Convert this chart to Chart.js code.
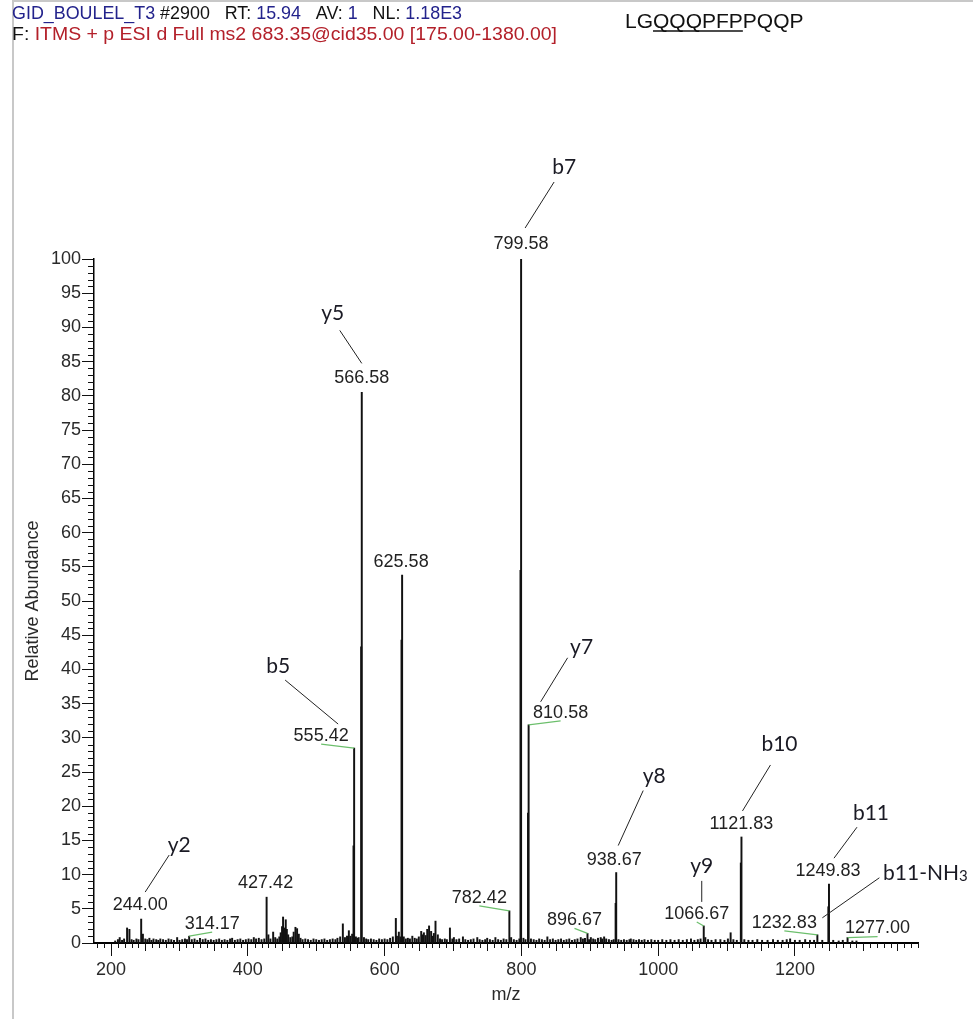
<!DOCTYPE html>
<html>
<head>
<meta charset="utf-8">
<title>MS2 spectrum LGQQQPFPPQQP</title>
<script src="https://cdn.jsdelivr.net/npm/chart.js@4.4.1/dist/chart.umd.min.js"></script>
<style>
  html, body { margin: 0; padding: 0; background: #fff; }
  canvas { display: block; }
</style>
</head>
<body>
<canvas id="spectrum" width="973" height="1019"></canvas>
<script>
// ---- Spectrum data: centroid m/z and relative abundance (%) ----
const peakMz = [
  206, 210, 212.6, 216, 219, 223.4, 226.8, 230, 233, 237, 240, 244.00, 246.5, 250, 253, 256, 259, 262, 266, 269,
  272, 276, 280, 284, 288, 292, 296.6, 300, 304, 308, 311, 314.17, 318, 322, 326, 330, 334, 338, 342, 346,
  350, 354, 358, 362, 366, 370, 374, 377, 381, 385, 389, 393, 397, 401, 405, 408.7, 412, 416, 420, 424,
  427.42, 430, 433, 437, 440, 443, 446, 448, 450, 451.5, 453, 455.4, 457, 459, 462, 465, 467, 469.6, 472, 474.5,
  477, 480, 484, 488, 492, 496, 500, 504, 508, 512, 516, 520, 524, 528, 531, 535, 538.9, 542, 545, 547.7,
  550, 552.5, 554.5, 555.42, 558, 560, 562, 565.7, 566.58, 569.8, 573, 576, 580, 584, 588, 592, 596, 600, 604, 608,
  612, 616.4, 618, 620.8, 623, 624.7, 625.58, 628, 631, 634, 637, 640.5, 644, 647, 650, 653.5, 655.5, 657.4, 660, 662.3,
  665, 668, 670, 672, 674.4, 677.8, 681, 684, 688, 691, 695.5, 699, 701.3, 705, 709, 714.5, 718, 722, 726, 730,
  735.5, 739, 743, 747, 750, 754, 758, 762, 766, 770, 774, 778, 782.42, 785, 789, 793, 797, 798.7, 799.58, 803,
  806, 809.7, 810.58, 814, 818, 822, 826, 830, 834, 838, 842, 846, 850, 854, 858, 862, 866, 870, 874, 878,
  882, 886.8, 890, 893, 896.67, 899, 901.6, 905, 908, 912, 916, 918, 921, 924, 928, 932, 935, 937.8, 938.67, 942,
  946, 950, 954, 958, 960, 964, 968, 972, 976, 980, 985, 990, 995, 1000, 1006, 1012, 1018, 1024, 1030, 1036,
  1042, 1048, 1053, 1058, 1062, 1066.67, 1069, 1073, 1078, 1084, 1091, 1097, 1102, 1106, 1110, 1115, 1120.9, 1121.83, 1126, 1132,
  1138, 1145, 1152, 1160, 1168, 1175, 1182, 1188, 1193, 1200, 1207, 1215, 1222, 1228, 1232.83, 1240, 1248.9, 1249.83, 1256, 1264,
  1270, 1277.00, 1284, 1290
];
const peakIntensity = [
  0.3, 0.5, 0.8, 0.4, 0.6, 2.2, 2.0, 0.5, 0.4, 0.6, 0.5, 3.5, 1.3, 0.6, 0.5, 0.7, 0.4, 0.6, 0.5, 0.4,
  0.6, 0.5, 0.4, 0.6, 0.5, 0.4, 0.8, 0.4, 0.5, 0.6, 0.5, 1.0, 0.5, 0.6, 0.4, 0.7, 0.5, 0.6, 0.4, 0.5,
  0.4, 0.5, 0.6, 0.4, 0.5, 0.4, 0.6, 0.7, 0.4, 0.5, 0.6, 0.4, 0.5, 0.6, 0.5, 0.8, 0.6, 0.7, 0.5, 0.6,
  6.7, 1.2, 0.6, 1.6, 0.8, 0.6, 0.9, 1.5, 2.4, 3.8, 2.2, 3.4, 2.0, 1.2, 0.8, 0.9, 1.6, 2.3, 2.1, 1.3,
  0.7, 0.5, 0.6, 0.5, 0.4, 0.6, 0.5, 0.4, 0.5, 0.6, 0.4, 0.5, 0.6, 0.5, 0.7, 0.9, 2.8, 0.8, 1.0, 1.8,
  1.0, 1.3, 14.2, 28.5, 0.9, 0.7, 0.8, 43.3, 80.5, 0.8, 0.6, 0.5, 0.6, 0.5, 0.4, 0.6, 0.5, 0.6, 0.5, 0.7,
  0.9, 3.6, 1.0, 1.6, 0.9, 44.3, 53.8, 0.9, 0.6, 0.7, 0.6, 1.0, 0.7, 0.6, 0.9, 1.7, 1.2, 1.5, 1.1, 2.0,
  2.5, 1.7, 1.0, 1.4, 3.2, 1.2, 0.6, 0.5, 0.6, 0.5, 2.2, 0.6, 0.8, 0.5, 0.6, 0.9, 0.5, 0.4, 0.5, 0.6,
  0.8, 0.5, 0.4, 0.5, 0.7, 0.5, 0.4, 0.8, 0.5, 0.4, 0.6, 0.5, 4.7, 0.8, 0.5, 0.4, 0.6, 54.5, 100, 0.7,
  0.5, 19.0, 31.9, 0.6, 0.5, 0.4, 0.6, 0.5, 0.4, 0.9, 0.5, 0.6, 0.4, 0.5, 0.6, 0.4, 0.5, 0.6, 0.4, 0.5,
  0.6, 0.8, 0.6, 0.7, 1.4, 0.5, 0.8, 0.6, 0.5, 0.7, 0.8, 0.6, 0.9, 0.6, 0.5, 0.4, 0.5, 5.8, 10.3, 0.5,
  0.4, 0.5, 0.4, 0.5, 0.6, 0.5, 0.4, 0.5, 0.4, 0.5, 0.4, 0.5, 0.4, 0.4, 0.5, 0.4, 0.5, 0.4, 0.5, 0.4,
  0.5, 0.6, 0.4, 0.5, 0.6, 2.5, 0.8, 0.5, 0.4, 0.5, 0.5, 0.4, 0.6, 1.5, 0.5, 0.4, 11.7, 15.5, 0.5, 0.4,
  0.4, 0.5, 0.4, 0.4, 0.5, 0.4, 0.4, 0.5, 0.6, 0.4, 0.4, 0.5, 0.4, 0.4, 1.2, 0.4, 5.3, 8.6, 0.4, 0.3,
  0.4, 0.8, 0.3, 0.3
];

// Peaks whose m/z is printed on the spectrum
const labelledMz = [244.00, 314.17, 427.42, 555.42, 566.58, 625.58, 782.42, 799.58, 810.58,
                    896.67, 938.67, 1066.67, 1121.83, 1232.83, 1249.83, 1277.00];
// Fragment ion assignments
const ionNames = ['y2', 'b5', 'y5', 'b7', 'y7', 'y8', 'y9', 'b10', 'b11', 'b11-NH3'];
const ionMz    = [244.00, 555.42, 566.58, 799.58, 810.58, 938.67, 1066.67, 1121.83, 1249.83, 1232.83];

// Axis ticks
const xTickValues = [200, 400, 600, 800, 1000, 1200];
const yTickValues = [0, 5, 10, 15, 20, 25, 30, 35, 40, 45, 50, 55, 60, 65, 70, 75, 80, 85, 90, 95, 100];

// Scan header and peptide sequence
const headerLine1 = [['GID_BOULEL_T3', 'blue'], [' #2900', 'black'], ['   RT: ', 'black'], ['15.94', 'blue'],
                     ['   AV: ', 'black'], ['1', 'blue'], ['   NL: ', 'black'], ['1.18E3', 'blue']];
const headerLine2 = [['F: ', 'black'], ['ITMS + p ESI d Full ms2 683.35@cid35.00 [175.00-1380.00]', 'red']];
const peptide = 'LGQQQPFPPQQP';
const peptideUnderline = [2, 8];   // residues QQQPFP

// ---- Placement of annotations, in pixels relative to the peak apex ----
const labelPlacement = {
  '244.00':  { dx: -1,  dy: -14 },
  '314.17':  { dx: 23,  dy: -12, mark: true },
  '427.42':  { dx: -1,  dy: -14 },
  '555.42':  { dx: -33, dy: -12, mark: true },
  '566.58':  { dx: 0,   dy: -14 },
  '625.58':  { dx: -1,  dy: -13 },
  '782.42':  { dx: -30, dy: -13, mark: true },
  '799.58':  { dx: 0,   dy: -15 },
  '810.58':  { dx: 32,  dy: -12, mark: true },
  '896.67':  { dx: -13, dy: -13, mark: true },
  '938.67':  { dx: -2,  dy: -13 },
  '1066.67': { dx: -7,  dy: -12, mark: true },
  '1121.83': { dx: 0,   dy: -13 },
  '1232.83': { dx: -33, dy: -12, mark: true },
  '1249.83': { dx: -1,  dy: -13 },
  '1277.00': { dx: 30,  dy: -9,  mark: true }
};
const ionPlacement = {
  'y2':      { tx: 38,  ty: -74, l: [28, -64, 4, -27] },
  'b5':      { tx: -76, ty: -82, l: [-69, -68, -16, -24] },
  'y5':      { tx: -29, ty: -79, l: [-22, -62, 0, -29] },
  'b7':      { tx: 43,  ty: -92, l: [33, -77, 4, -31] },
  'y7':      { tx: 53,  ty: -78, l: [39, -67, 12, -23] },
  'y8':      { tx: 38,  ty: -96, l: [27, -82, 2, -27] },
  'y9':      { tx: -2,  ty: -60, l: [-2, -45, -2, -24] },
  'b10':     { tx: 38,  ty: -93, l: [29, -72, 1, -26] },
  'b11':     { tx: 42,  ty: -71, l: [28, -57, 5, -26] },
  'b11-NH3': { tx: 108, ty: -62, l: [62, -57, 5, -17] }
};

const SANS = '"Liberation Sans", Arial, Helvetica, sans-serif';
const ION_FONT = 'Lato, "Open Sans", sans-serif';
const COLORS = { blue: '#23238c', red: '#b3202a', black: '#111111' };

function apexOf(mz) {
  const i = peakMz.indexOf(mz);
  return peakIntensity[i];
}

function drawSegments(ctx, segs, x0, baseline, width, font) {
  ctx.font = font;
  const natural = segs.reduce((s, [t]) => s + ctx.measureText(t).width, 0);
  ctx.save();
  ctx.translate(x0, baseline);
  ctx.scale(width / natural, 1);
  let x = 0;
  ctx.textBaseline = 'alphabetic';
  ctx.textAlign = 'left';
  for (const [t, c] of segs) {
    ctx.fillStyle = COLORS[c];
    ctx.fillText(t, x, 0);
    x += ctx.measureText(t).width;
  }
  ctx.restore();
}

const annotations = {
  id: 'annotations',
  afterDraw(chart) {
    const { ctx, scales: { x, y } } = chart;
    ctx.save();

    // panel frame
    ctx.strokeStyle = '#c8c8c8';
    ctx.lineWidth = 2;
    ctx.beginPath();
    ctx.moveTo(13, 1019);
    ctx.lineTo(13, 1);
    ctx.lineTo(973, 1);
    ctx.stroke();

    // minor and intermediate ticks
    ctx.strokeStyle = '#111';
    ctx.lineWidth = 1;
    const axisY = y.getPixelForValue(0);
    const axisX = x.getPixelForValue(175);
    for (let v = 180; v <= 1380; v += 10) {
      if (v % 200 === 0) continue;
      const px = Math.round(x.getPixelForValue(v)) + 0.5;
      const len = v % 50 === 0 ? 8 : 5;
      ctx.beginPath();
      ctx.moveTo(px, axisY);
      ctx.lineTo(px, axisY + len);
      ctx.stroke();
    }
    for (let v = 1; v < 100; v++) {
      if (v % 5 === 0) continue;
      const py = Math.round(y.getPixelForValue(v)) + 0.5;
      ctx.beginPath();
      ctx.moveTo(axisX - 6, py);
      ctx.lineTo(axisX, py);
      ctx.stroke();
    }

    // m/z labels on peaks
    ctx.font = '18px ' + SANS;
    ctx.textAlign = 'center';
    ctx.textBaseline = 'middle';
    for (const mz of labelledMz) {
      const key = mz.toFixed(2);
      const p = labelPlacement[key];
      const px = x.getPixelForValue(mz);
      const py = y.getPixelForValue(apexOf(mz));
      const lx = px + p.dx, ly = py + p.dy;
      ctx.fillStyle = '#222';
      ctx.fillText(key, lx, ly);
      if (p.mark) {
        ctx.strokeStyle = '#6cbf6c';
        ctx.lineWidth = 1.2;
        ctx.beginPath();
        ctx.moveTo(lx, ly + 8);
        ctx.lineTo(px, py);
        ctx.stroke();
      }
    }

    // fragment ion assignments with leader lines
    for (let i = 0; i < ionNames.length; i++) {
      const name = ionNames[i];
      const p = ionPlacement[name];
      const px = x.getPixelForValue(ionMz[i]);
      const py = y.getPixelForValue(apexOf(ionMz[i]));
      ctx.strokeStyle = '#222';
      ctx.lineWidth = 1;
      ctx.beginPath();
      ctx.moveTo(px + p.l[0], py + p.l[1]);
      ctx.lineTo(px + p.l[2], py + p.l[3]);
      ctx.stroke();

      ctx.fillStyle = '#1a1a24';
      ctx.textBaseline = 'middle';
      const cx = px + p.tx, cy = py + p.ty;
      const sub = name.match(/^(.*NH)(3)$/);
      if (sub) {
        ctx.font = '21px ' + ION_FONT;
        const w1 = ctx.measureText(sub[1]).width;
        ctx.font = '15px ' + ION_FONT;
        const w2 = ctx.measureText(sub[2]).width;
        const left = cx - (w1 + w2) / 2;
        ctx.textAlign = 'left';
        ctx.font = '21px ' + ION_FONT;
        ctx.fillText(sub[1], left, cy);
        ctx.font = '15px ' + ION_FONT;
        ctx.fillText(sub[2], left + w1, cy + 3);
      } else {
        ctx.font = '21px ' + ION_FONT;
        ctx.textAlign = 'center';
        ctx.fillText(name, cx, cy);
      }
    }

    // scan header
    drawSegments(ctx, headerLine1, 12, 19, 450, '18px ' + SANS);
    drawSegments(ctx, headerLine2, 12, 40, 545, '18px ' + SANS);

    // peptide sequence, modified stretch underlined
    ctx.font = '21px ' + SANS;
    ctx.fillStyle = '#111';
    ctx.textAlign = 'left';
    ctx.textBaseline = 'alphabetic';
    const seqX = 625, seqY = 28;
    ctx.fillText(peptide, seqX, seqY);
    const u0 = seqX + ctx.measureText(peptide.slice(0, peptideUnderline[0])).width;
    const u1 = seqX + ctx.measureText(peptide.slice(0, peptideUnderline[1])).width;
    ctx.strokeStyle = '#111';
    ctx.lineWidth = 1.3;
    ctx.beginPath();
    ctx.moveTo(u0, seqY + 3);
    ctx.lineTo(u1, seqY + 3);
    ctx.stroke();

    ctx.restore();
  }
};

new Chart(document.getElementById('spectrum'), {
  type: 'bar',
  data: {
    datasets: [{
      data: peakMz.map((mz, i) => ({ x: mz, y: peakIntensity[i] })),
      backgroundColor: '#111',
      borderWidth: 0,
      barThickness: 1.3,
      grouped: false
    }]
  },
  options: {
    responsive: false,
    animation: false,
    devicePixelRatio: 1,
    layout: { padding: { top: 259, right: 55, left: 20, bottom: 0 } },
    plugins: { legend: { display: false }, tooltip: { enabled: false } },
    scales: {
      x: {
        type: 'linear',
        min: 175,
        max: 1380,
        offset: false,
        afterBuildTicks: s => { s.ticks = xTickValues.map(v => ({ value: v })); },
        afterFit: s => { s.height = 76; },
        ticks: { font: { family: SANS, size: 18 }, color: '#2a2a2a', padding: 3, maxRotation: 0, autoSkip: false,
                 callback: v => String(v) },
        grid: { offset: false, drawOnChartArea: false, drawTicks: true, tickLength: 13, tickColor: '#111', tickWidth: 1 },
        border: { display: true, color: '#000', width: 2 },
        title: { display: true, text: 'm/z', font: { family: SANS, size: 18 }, color: '#2a2a2a', padding: { bottom: 13 } }
      },
      y: {
        type: 'linear',
        min: 0,
        max: 100,
        afterBuildTicks: s => { s.ticks = yTickValues.map(v => ({ value: v })); },
        afterFit: s => { s.width = 74; },
        ticks: { font: { family: SANS, size: 18 }, color: '#2a2a2a', padding: 1, callback: v => String(v) },
        grid: { drawOnChartArea: false, drawTicks: true, tickLength: 12, tickColor: '#111', tickWidth: 1 },
        border: { display: true, color: '#000', width: 1.5 },
        title: { display: true, text: 'Relative Abundance', font: { family: SANS, size: 18 }, color: '#2a2a2a', padding: { top: 2 } }
      }
    }
  },
  plugins: [annotations]
});
</script>
</body>
</html>
